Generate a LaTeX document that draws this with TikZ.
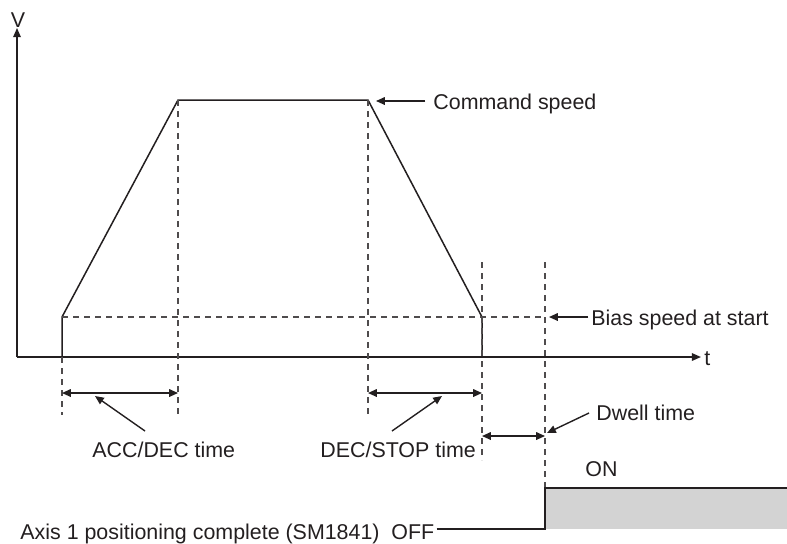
\documentclass[tikz,border=0pt]{standalone}
\usepackage{fontspec}
\setmainfont{Liberation Sans}
\usetikzlibrary{arrows.meta,positioning}
\definecolor{tcInk}{HTML}{231F20}
\definecolor{tcFill}{HTML}{D3D3D3}
\tikzset{
  curve/.style={line width=0.75pt, draw=tcInk},
  axisline/.style={curve, -{Triangle[length=4.6pt,width=3.8pt]}},
  guide/.style={line width=0.8pt, draw=tcInk!80, dash pattern=on 3pt off 2.5pt},
  span/.style={line width=0.7pt, draw=tcInk, fill=tcInk, {Triangle[length=4.4pt,width=3.8pt]}-{Triangle[length=4.4pt,width=3.8pt]}},
  pointer/.style={line width=0.7pt, draw=tcInk, fill=tcInk, -{Triangle[length=4.4pt,width=3.8pt]}},
  lbl/.style={font=\fontsize{10.7}{12}\selectfont, text=tcInk, inner sep=0pt},
  signal/.style={curve},
  onpart/.style={fill=tcFill}
}
\begin{document}
\begin{tikzpicture}[x=0.5pt, y=-0.5pt]
  \useasboundingbox (0,0) rectangle (787,543);

  \coordinate (O) at (17,357);
  \coordinate (vtip) at (17,28);
  \coordinate (ttip) at (701,357);
  \coordinate (A) at (62,317);
  \coordinate (B) at (178,100);
  \coordinate (C) at (368,100);
  \coordinate (D) at (482,317);
  \coordinate (A0) at (62,357);
  \coordinate (D0) at (482,357);
  \coordinate (biasend) at (545,317);

  \draw[axisline] (O) -- (vtip);
  \draw[axisline] (O) -- (ttip);
  \node[lbl, anchor=base] (vlbl) at (18,27) {V};
  \node[lbl, anchor=base west] (tlbl) at (704,365) {t};

  \draw[curve] (A0) -- (A) -- (B) -- (C) -- (D) -- (D0);

  \draw[guide] (A) -- (biasend);
  \draw[guide] (A0) -- (62,415);
  \draw[guide] (B) -- (178,415);
  \draw[guide] (C) -- (368,415);
  \draw[guide] (482,262) -- (482,460);
  \draw[guide] (545,262) -- (545,488);

  \draw[span] (62,393) -- (178,393);
  \draw[span] (368,393) -- (482,393);
  \draw[span] (482,436) -- (545,436);

  \node[lbl, anchor=base west] (cmdlbl) at (433,109) {Command speed};
  \node[lbl, anchor=base west] (biaslbl) at (591,325) {Bias speed at start};
  \node[lbl, anchor=base west] (dwelllbl) at (596,420) {Dwell time};
  \node[lbl, anchor=base west] (acclbl) at (92,457) {ACC/DEC time};
  \node[lbl, anchor=base west] (declbl) at (320,457) {DEC/STOP time};
  \node[lbl, anchor=base west] (onlbl) at (585,476) {ON};
  \node[lbl, anchor=base west] (offlbl) at (20,539) {Axis 1 positioning complete (SM1841)\ \ OFF};

  \coordinate (cmdtail) at (425,101);
  \coordinate (biastail) at (588,317);
  \coordinate (dwelltail) at (589,413);
  \coordinate (acctail) at (145,431);
  \coordinate (dectail) at (392,431);
  \draw[pointer] (cmdtail) -- (376,101);
  \draw[pointer] (biastail) -- (549,317);
  \draw[pointer] (dwelltail) -- (547,433);
  \draw[pointer] (acctail) -- (95,396);
  \draw[pointer] (dectail) -- (442,396);

  \coordinate (sigLow) at (545,529);
  \coordinate (sigUp) at (545,488);
  \coordinate (sigEnd) at (787,488);
  \fill[onpart] (sigUp) rectangle (787,529);
  \draw[signal] ([xshift=1pt]offlbl.east |- sigLow) -- (sigLow) -- (sigUp) -- (sigEnd);
\end{tikzpicture}
\end{document}
